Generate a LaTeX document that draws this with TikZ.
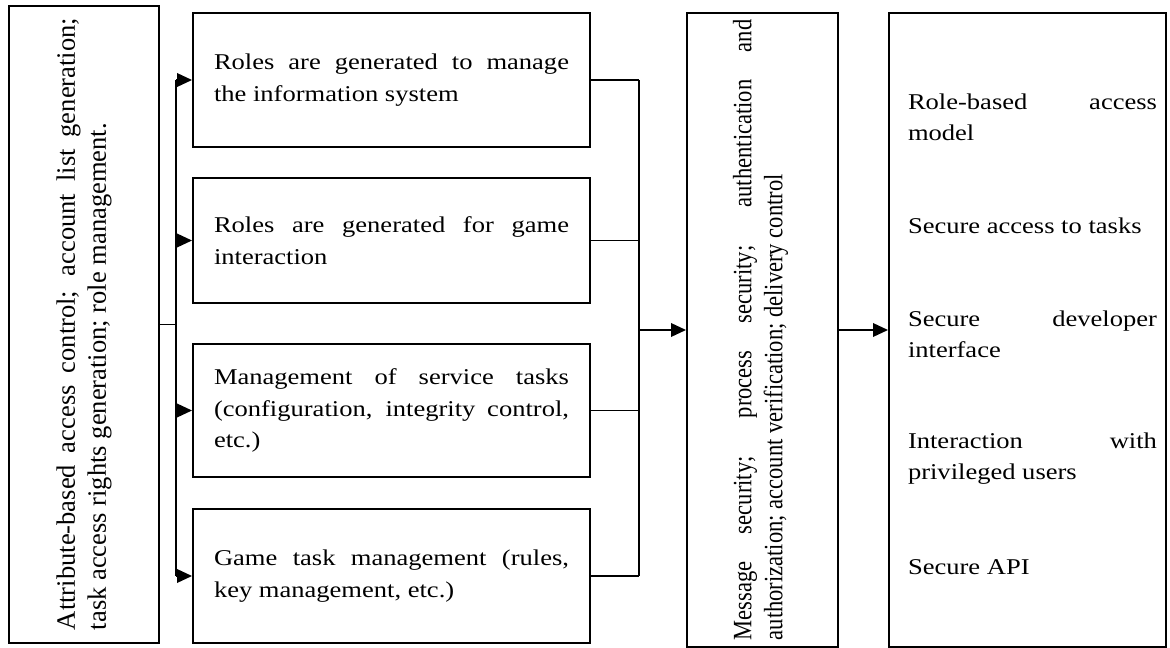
\documentclass[tikz,border=0pt]{standalone}
\usepackage{fontspec}
\setmainfont{Liberation Serif}
\usetikzlibrary{arrows.meta, positioning, calc}
\hyphenpenalty=10000
\exhyphenpenalty=10000
\tolerance=10000
\hbadness=10000

\begin{document}
\begin{tikzpicture}[
  box/.style={rectangle, draw, line width=1.1pt, inner sep=0pt},
  txt/.style={inner sep=0pt, text width=7.1cm, align=justify, yscale=0.85, font=\fontsize{15.1}{21}\selectfont},
  itm/.style={inner sep=0pt, text width=4.98cm, align=justify, yscale=0.85, font=\fontsize{15.1}{21}\selectfont},
  vtxt/.style={inner sep=0pt, align=justify, rotate=90, font=\fontsize{15.1}{17.6}\selectfont},
  link/.style={line width=1.1pt},
  arr/.style={line width=1.1pt, -{Triangle[length=0.3cm, width=0.27cm]}},
]
\useasboundingbox (0,0) rectangle (23.4,-12.96);

\node[box, minimum width=3cm, minimum height=12.74cm] (attr) at (1.68,-6.49) {};
\node[box, minimum width=7.94cm, minimum height=2.68cm] (r1) at (7.83,-1.60) {};
\node[box, minimum width=7.94cm, minimum height=2.5cm] (r2) at (7.83,-4.81) {};
\node[box, minimum width=7.94cm, minimum height=2.66cm] (r3) at (7.83,-8.21) {};
\node[box, minimum width=7.94cm, minimum height=2.68cm] (r4) at (7.83,-11.52) {};
\node[box, minimum width=3.02cm, minimum height=12.68cm] (msg) at (15.25,-6.60) {};
\node[box, minimum width=5.54cm, minimum height=12.68cm] (out) at (20.55,-6.60) {};

\node[vtxt, text width=12.24cm] (attrtxt) at (1.68,-6.48) {Attribute-based access control; account list generation;\linebreak task access rights generation; role management.};
\node[txt] (r1txt) at (r1) {Roles are generated to manage\linebreak the information system};
\node[txt] (r2txt) at (r2) {Roles are generated for game\linebreak interaction};
\node[txt] (r3txt) at (r3) {Management of service tasks\linebreak (configuration, integrity control,\linebreak etc.)};
\node[txt] (r4txt) at (r4) {Game task management (rules,\linebreak key management, etc.)};
\node[vtxt, xscale=0.85, text width=14.6cm] (msgtxt) at (15.21,-6.60) {Message security; process security; authentication and\linebreak authorization; account verification; delivery control};

\node[itm] (itm1) at (20.65,-2.35) {Role-based access\linebreak model};
\node[itm] (itm2) at (20.65,-4.52) {Secure access to tasks};
\node[itm] (itm3) at (20.65,-6.69) {Secure developer\linebreak interface};
\node[itm] (itm4) at (20.65,-9.17) {Interaction with\linebreak privileged users};
\node[itm] (itm5) at (20.65,-11.34) {Secure API};

\coordinate (lbus) at (3.52,0);
\coordinate (rbus) at (12.78,0);
\draw[link] (attr.east) -- (attr.east -| lbus);
\draw[link] (r1.west -| lbus) -- (r4.west -| lbus);
\foreach \r in {r1,r2,r3,r4}
  \draw[arr] (\r.west -| lbus) -- (\r.west);
\foreach \r in {r1,r2,r3,r4}
  \draw[link] (\r.east) -- (\r.east -| rbus);
\draw[link] (r1.east -| rbus) -- (r4.east -| rbus);
\draw[arr] (msg.west -| rbus) -- (msg.west);
\draw[arr] (msg.east) -- (out.west);
\end{tikzpicture}
\end{document}
